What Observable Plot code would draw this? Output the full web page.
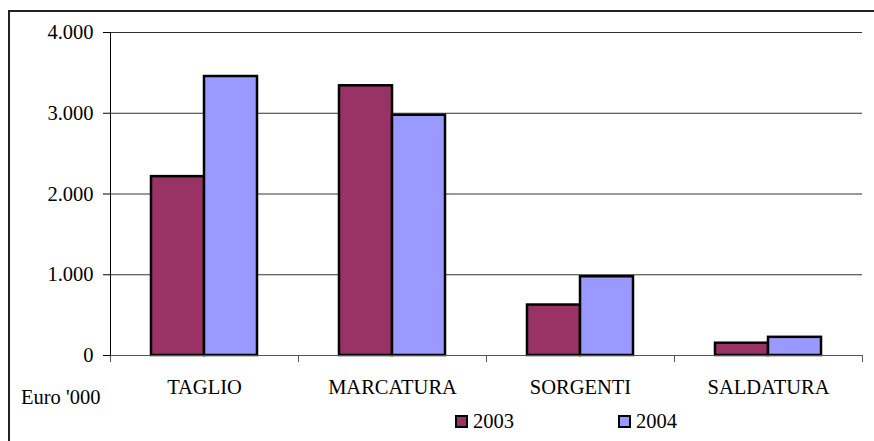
<!DOCTYPE html>
<html>
<head>
<meta charset="utf-8">
<script src="https://cdn.jsdelivr.net/npm/d3@7"></script>
<script src="https://cdn.jsdelivr.net/npm/@observablehq/plot@0.6"></script>
<style>
  html, body { margin: 0; padding: 0; background: #fff; }
  #wrap { position: relative; width: 874px; height: 441px; overflow: hidden; font-family: "Liberation Serif", Tinos, "DejaVu Serif", serif; }
  #border { position: absolute; left: 8px; top: 10px; width: 900px; height: 500px; border-left: 2px solid #222; border-top: 2px solid #222; box-sizing: border-box; }
  #chart { position: absolute; left: 0; top: 0; }
  #unit { position: absolute; left: 21px; top: 387px; font-size: 20.5px; line-height: 20.5px; color: #000; white-space: nowrap; }
  #legend { position: absolute; left: 455px; top: 411px; display: flex; font-size: 20.5px; line-height: 20.5px; color: #000; }
  .item { display: flex; align-items: flex-start; width: 163px; }
  .sw { width: 13px; height: 13px; box-sizing: border-box; border: 2px solid #000; margin-top: 4px; margin-right: 5px; }
  #chart svg text { font-family: "Liberation Serif", Tinos, "DejaVu Serif", serif; }
</style>
</head>
<body>
<div id="wrap">
  <div id="border"></div>
  <div id="chart"></div>
  <div id="unit"></div>
  <div id="legend"></div>
</div>
<script>
const categories = ["TAGLIO", "MARCATURA", "SORGENTI", "SALDATURA"];
const years = ["2003", "2004"];
const values2003 = [2215, 3340, 625, 152];
const values2004 = [3455, 2975, 975, 225];
const yTicks = [0, 1000, 2000, 3000, 4000];
const yTickLabels = ["0", "1.000", "2.000", "3.000", "4.000"];
const seriesColors = ["#993366", "#9999FF"];
const unitLabel = "Euro '000";

const data = [];
categories.forEach((c, i) => {
  data.push({category: c, year: years[0], value: values2003[i]});
  data.push({category: c, year: years[1], value: values2004[i]});
});

const serif = "\"Liberation Serif\", Tinos, \"DejaVu Serif\", serif";

const chart = Plot.plot({
  width: 874,
  height: 441,
  marginTop: 32,
  marginBottom: 86,
  marginLeft: 108,
  marginRight: 11,
  style: {fontFamily: serif, fontSize: "20.5px", color: "#000", background: "transparent", overflow: "visible"},
  fx: {domain: categories, padding: 0, axis: null},
  x: {domain: years, paddingInner: 0, paddingOuter: 0.75, axis: null},
  y: {domain: [0, 4000], axis: null},
  color: {domain: years, range: seriesColors},
  marks: [
    Plot.gridY(yTicks.filter(d => d > 0), {stroke: "#333", strokeOpacity: 1, strokeWidth: 1}),
    Plot.barY(data, {fx: "category", x: "year", y: "value", fill: "year", stroke: "#000", strokeWidth: 2.5}),
    Plot.ruleY([0], {stroke: "#555", strokeWidth: 1}),
    Plot.frame({anchor: "left", insetTop: 323, insetBottom: -6, stroke: "#555"}),
    Plot.frame({anchor: "right", insetTop: 323, insetBottom: -6, stroke: "#555"}),
    Plot.frame({anchor: "left", facetAnchor: "left", stroke: "#000"}),
    Plot.axisY({ticks: yTicks, tickSize: 7, tickPadding: 10, tickFormat: d => yTickLabels[yTicks.indexOf(d)], label: null, stroke: "#000", fontSize: 20.5, fontFamily: serif}),
    Plot.axisFx({anchor: "bottom", tickSize: 0, tickPadding: 24, label: null, fontSize: 20.5, fontFamily: serif})
  ]
});
document.getElementById("chart").appendChild(chart);
document.getElementById("unit").textContent = unitLabel;

const legend = document.getElementById("legend");
years.forEach((y, i) => {
  const item = document.createElement("div");
  item.className = "item";
  const sw = document.createElement("div");
  sw.className = "sw";
  sw.style.background = seriesColors[i];
  const t = document.createElement("span");
  t.textContent = y;
  item.appendChild(sw);
  item.appendChild(t);
  legend.appendChild(item);
});
</script>
</body>
</html>
